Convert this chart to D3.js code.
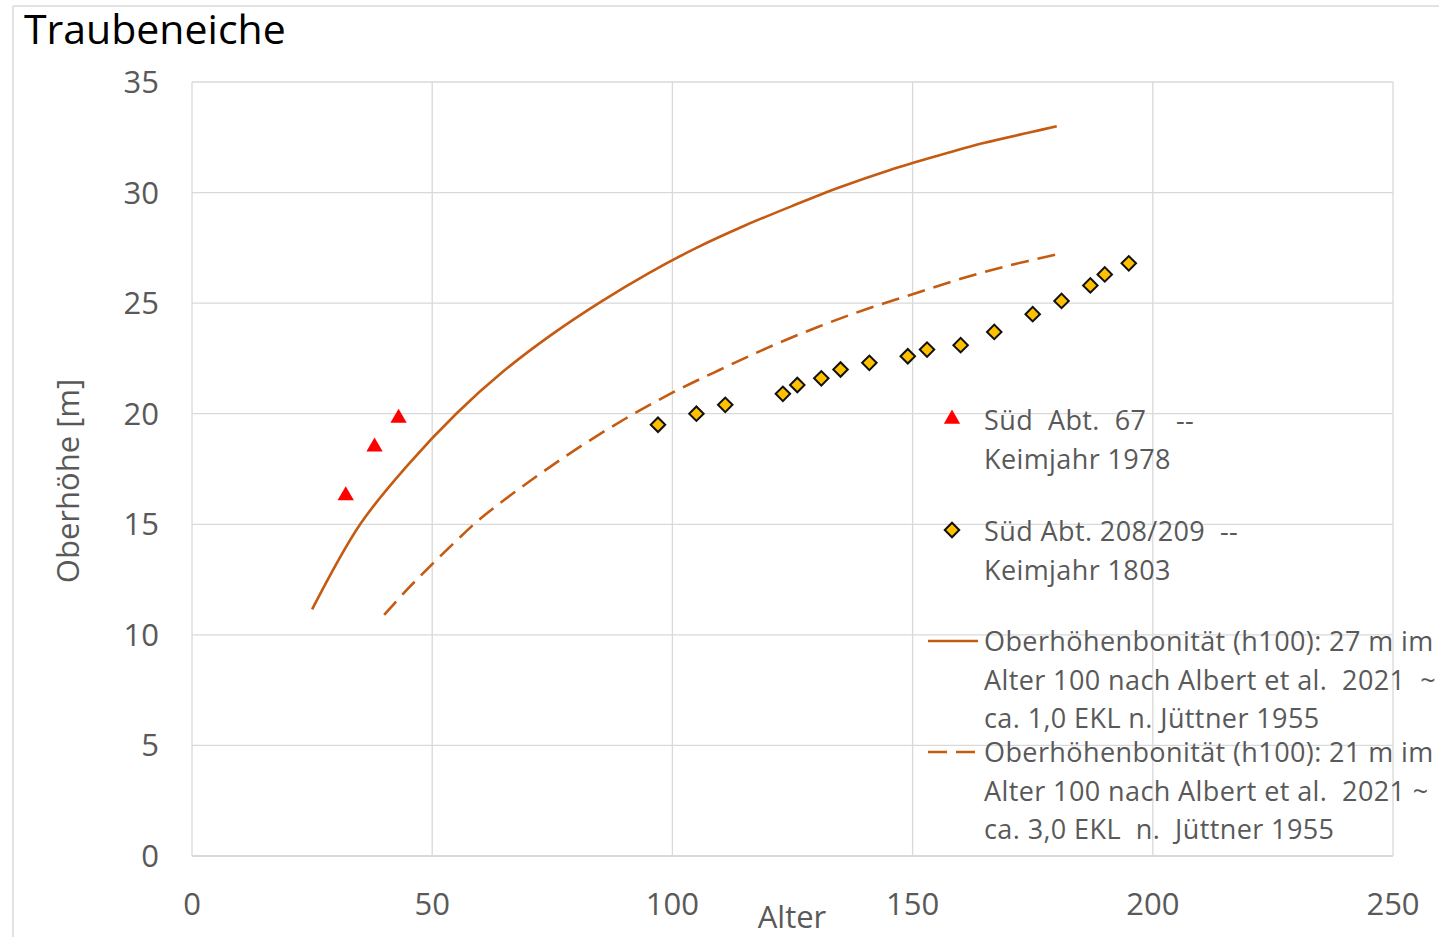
<!DOCTYPE html>
<html>
<head>
<meta charset="utf-8">
<script src="https://cdn.jsdelivr.net/npm/d3@7"></script>
<style>
  body { margin: 0; background: #fff; }
  text { font-family: "Open Sans", "Noto Sans", sans-serif; white-space: pre; }
</style>
</head>
<body>
<script>
// Oberhoehe (m) ueber Alter (Jahre)
var xTicks = [0, 50, 100, 150, 200, 250];
var yTicks = [0, 5, 10, 15, 20, 25, 30, 35];

var abt67Alter = [32, 38, 43];
var abt67Hoehe = [16.3, 18.5, 19.8];

var abt208Alter = [97, 105, 111, 123, 126, 131, 135, 141, 149, 153, 160, 167, 175, 181, 187, 190, 195];
var abt208Hoehe = [19.5, 20.0, 20.4, 20.9, 21.3, 21.6, 22.0, 22.3, 22.6, 22.9, 23.1, 23.7, 24.5, 25.1, 25.8, 26.3, 26.8];

var bon27Alter = [25, 35, 45, 55, 65, 75, 85, 95, 105, 115, 125, 135, 145, 155, 165, 175, 180];
var bon27Hoehe = [11.15, 15.0, 17.7, 20.0, 21.95, 23.6, 25.05, 26.35, 27.5, 28.5, 29.4, 30.25, 31.0, 31.65, 32.25, 32.75, 33.0];

var bon21Alter = [40, 45, 50, 55, 60, 70, 80, 90, 100, 110, 120, 130, 140, 150, 160, 170, 180];
var bon21Hoehe = [10.9, 12.1, 13.2, 14.25, 15.25, 16.9, 18.4, 19.75, 20.95, 22.0, 23.0, 23.9, 24.7, 25.4, 26.1, 26.7, 27.2];

var legendTexts = [
  ["Süd  Abt.  67    --", "Keimjahr 1978"],
  ["Süd Abt. 208/209  --", "Keimjahr 1803"],
  ["Oberhöhenbonität (h100): 27 m im", "Alter 100 nach Albert et al.  2021  ~", "ca. 1,0 EKL n. Jüttner 1955"],
  ["Oberhöhenbonität (h100): 21 m im", "Alter 100 nach Albert et al.  2021 ~", "ca. 3,0 EKL  n.  Jüttner 1955"]
];

var orange = "#c55a11";
var gridColor = "#d9d9d9";
var labelColor = "#595959";

var svg = d3.select("body")
    .append("svg")
    .attr("width", 1439)
    .attr("height", 937);

// outer frame
svg.append("line").attr("x1", 13).attr("y1", 6).attr("x2", 1439).attr("y2", 6)
    .attr("stroke", gridColor).attr("stroke-width", 1.5);
svg.append("line").attr("x1", 13).attr("y1", 6).attr("x2", 13).attr("y2", 937)
    .attr("stroke", gridColor).attr("stroke-width", 1.5);

var x = d3.scaleLinear().domain([0, 250]).range([192, 1393]);
var y = d3.scaleLinear().domain([0, 35]).range([856, 82]);

// grid
svg.selectAll(".vgrid").data(xTicks).enter().append("line")
    .attr("x1", d => x(d)).attr("x2", d => x(d))
    .attr("y1", y(35)).attr("y2", y(0))
    .attr("stroke", gridColor).attr("stroke-width", 1.3);
svg.selectAll(".hgrid").data(yTicks).enter().append("line")
    .attr("x1", x(0)).attr("x2", x(250))
    .attr("y1", d => y(d)).attr("y2", d => y(d))
    .attr("stroke", gridColor).attr("stroke-width", d => d == 0 ? 2 : 1.3);

// tick labels
svg.selectAll(".xlab").data(xTicks).enter().append("text")
    .attr("x", d => x(d)).attr("y", 915)
    .attr("text-anchor", "middle")
    .attr("font-size", 31).attr("fill", labelColor)
    .text(d => d);
svg.selectAll(".ylab").data(yTicks).enter().append("text")
    .attr("x", 159).attr("y", d => y(d) + 11)
    .attr("text-anchor", "end")
    .attr("font-size", 31).attr("fill", labelColor)
    .text(d => d);

// titles
svg.append("text").attr("x", 24).attr("y", 44)
    .attr("font-size", 41).attr("fill", "#000")
    .text("Traubeneiche");
svg.append("text").attr("x", 792).attr("y", 928)
    .attr("text-anchor", "middle")
    .attr("font-size", 31).attr("fill", labelColor)
    .text("Alter");
svg.append("text")
    .attr("transform", "translate(79,481) rotate(-90)")
    .attr("text-anchor", "middle")
    .attr("font-size", 31).attr("fill", labelColor)
    .text("Oberhöhe [m]");

// curves
var line = d3.line()
    .x(d => x(d[0]))
    .y(d => y(d[1]))
    .curve(d3.curveCatmullRom.alpha(0.5));

svg.append("path")
    .datum(d3.zip(bon27Alter, bon27Hoehe))
    .attr("d", line)
    .attr("fill", "none").attr("stroke", orange).attr("stroke-width", 2.6);

svg.append("path")
    .datum(d3.zip(bon21Alter, bon21Hoehe))
    .attr("d", line)
    .attr("fill", "none").attr("stroke", orange).attr("stroke-width", 2.6)
    .attr("stroke-dasharray", "18,9");

// markers
var tri = d3.symbol().type(d3.symbolTriangle).size(115);
var dia = d3.symbol().type(d3.symbolSquare).size(105);

svg.selectAll(".tri").data(d3.zip(abt67Alter, abt67Hoehe)).enter().append("path")
    .attr("d", tri)
    .attr("transform", d => "translate(" + x(d[0]) + "," + y(d[1]) + ")")
    .attr("fill", "#ff0000");

svg.selectAll(".dia").data(d3.zip(abt208Alter, abt208Hoehe)).enter().append("path")
    .attr("d", dia)
    .attr("transform", d => "translate(" + x(d[0]) + "," + y(d[1]) + ") rotate(45)")
    .attr("fill", "#ffc000").attr("stroke", "#111").attr("stroke-width", 2);

// legend
var lx = 984;
var lineH = 38.5;
var legTop = [420, 531, 641, 752];

legendTexts.forEach(function(lines, i){
    lines.forEach(function(t, j){
        svg.append("text")
            .attr("x", lx).attr("y", legTop[i] + j * lineH + 10)
            .attr("font-size", 27).attr("fill", labelColor)
            .attr("letter-spacing", 0.4)
            .attr("xml:space", "preserve")
            .text(t);
    });
});

svg.append("path").attr("d", tri)
    .attr("transform", "translate(952,419)")
    .attr("fill", "#ff0000");
svg.append("path").attr("d", dia)
    .attr("transform", "translate(952,530) rotate(45)")
    .attr("fill", "#ffc000").attr("stroke", "#111").attr("stroke-width", 2);
svg.append("line").attr("x1", 928).attr("x2", 978).attr("y1", 641).attr("y2", 641)
    .attr("stroke", orange).attr("stroke-width", 2.6);
svg.append("line").attr("x1", 928).attr("x2", 978).attr("y1", 752).attr("y2", 752)
    .attr("stroke", orange).attr("stroke-width", 2.6)
    .attr("stroke-dasharray", "19,9");
</script>
</body>
</html>
